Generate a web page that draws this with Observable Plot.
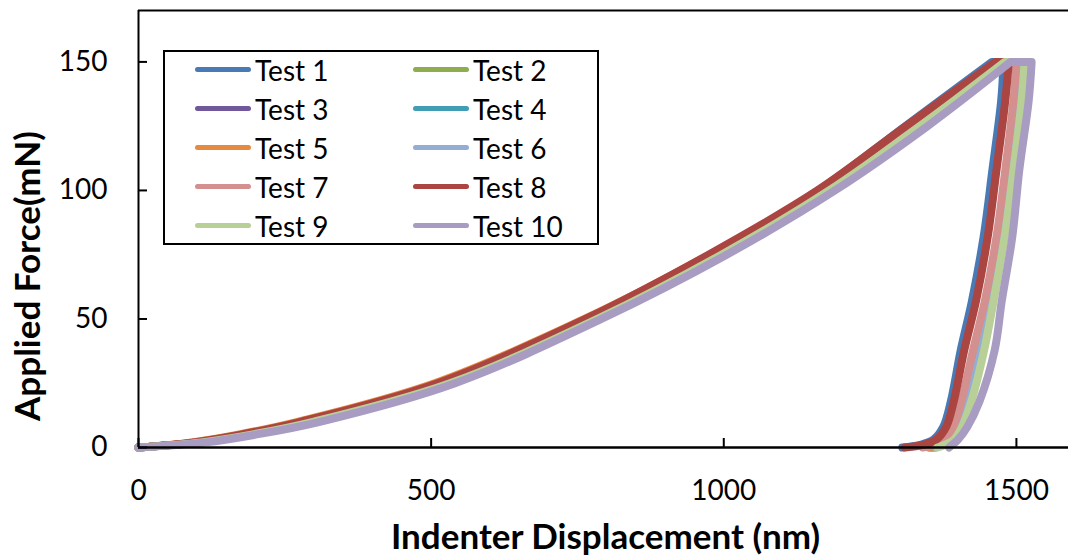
<!DOCTYPE html>
<html><head><meta charset="utf-8">
<script src="https://cdn.jsdelivr.net/npm/d3@7"></script>
<script src="https://cdn.jsdelivr.net/npm/@observablehq/plot@0.6"></script>
<style>
body{margin:0;background:#fff;}
#wrap{position:relative;width:1068px;height:558px;font-family:Lato, sans-serif;overflow:hidden;}
#legend{position:absolute;left:163px;top:50px;width:436px;height:195px;border:2px solid #000;box-sizing:border-box;background:#fff;
  display:grid;grid-template-columns:218px 218px;grid-auto-rows:39px;padding-left:30px;padding-top:0px;}
.item{display:flex;align-items:center;font-size:28px;color:#000;line-height:1;position:relative;top:-2px;}
.sw{width:56px;height:5px;border-radius:3px;margin-right:4px;flex:none;}
</style></head>
<body><div id="wrap"></div>
<script>
const tests = ["Test 1","Test 2","Test 3","Test 4","Test 5","Test 6","Test 7","Test 8","Test 9","Test 10"];
const colors = ["#4A7AB5","#8DAD4E","#71589A","#419DB6","#E68A40","#93AED5","#D4908E","#AA4541","#B8D098","#A99CC2"];

const xDomain = [0, 1589];
const yDomain = [0, 170];
const xTicks = [0, 500, 1000, 1500];
const yTicks = [0, 50, 100, 150];
const xTitle = "Indenter Displacement (nm)";
const yTitle = "Applied Force(mN)";

// loading: displacement (nm) at these force levels (mN)
const loadForce = [0, 2, 5, 10, 25, 50, 75, 100, 125, 150];
const load1  = [0, 100, 180, 282, 515, 768, 978, 1162, 1310, 1458];
const load2  = [0, 105, 188, 292, 525, 778, 990, 1175, 1328, 1474];
const load3  = [0, 103, 186, 290, 523, 776, 988, 1173, 1326, 1472];
const load4  = [0, 106, 190, 294, 527, 780, 992, 1178, 1332, 1477];
const load5  = [0,  92, 170, 272, 506, 762, 976, 1165, 1318, 1466];
const load6  = [0, 107, 191, 296, 529, 782, 994, 1180, 1335, 1479];
const load7  = [0, 100, 182, 284, 518, 770, 982, 1167, 1320, 1470];
const load8  = [0,  95, 175, 277, 511, 764, 974, 1160, 1311, 1464];
const load9  = [0, 108, 193, 298, 532, 784, 996, 1180, 1335, 1480];
const load10 = [0, 115, 200, 310, 541, 791, 1005, 1190, 1348, 1490];

// unloading: displacement (nm) at these force levels (mN)
const unloadForce = [150, 135, 108, 82, 57, 38, 18, 8, 3, 1, 0];
const unload1  = [1478, 1474, 1459, 1444, 1424, 1405, 1388, 1375, 1358, 1335, 1305];
const unload2  = [1503, 1498, 1484, 1469, 1449, 1429, 1408, 1394, 1380, 1366, 1350];
const unload3  = [1506, 1501, 1487, 1472, 1452, 1432, 1411, 1397, 1384, 1370, 1355];
const unload4  = [1509, 1504, 1490, 1475, 1455, 1436, 1414, 1400, 1388, 1374, 1360];
const unload5  = [1505, 1500, 1486, 1471, 1451, 1431, 1410, 1396, 1382, 1368, 1352];
const unload6  = [1512, 1507, 1492, 1477, 1458, 1440, 1418, 1403, 1390, 1376, 1362];
const unload7  = [1500, 1495, 1481, 1466, 1446, 1426, 1406, 1392, 1377, 1360, 1340];
const unload8  = [1487, 1481, 1466, 1451, 1431, 1411, 1393, 1380, 1363, 1340, 1310];
const unload9  = [1514, 1509, 1495, 1480, 1461, 1445, 1423, 1407, 1393, 1378, 1365];
const unload10 = [1526, 1521, 1505, 1493, 1475, 1463, 1437, 1416, 1400, 1390, 1385];

const loads = [load1, load2, load3, load4, load5, load6, load7, load8, load9, load10];
const unloads = [unload1, unload2, unload3, unload4, unload5, unload6, unload7, unload8, unload9, unload10];

const rows = [];
tests.forEach((t, i) => {
  const L = loads[i], U = unloads[i];
  loadForce.forEach((f, j) => rows.push({test: t, h: L[j], f}));
  // repeat corner points so the hold segment stays straight
  rows.push({test: t, h: L[L.length - 1], f: loadForce[loadForce.length - 1]});
  rows.push({test: t, h: U[0], f: unloadForce[0]});
  unloadForce.forEach((f, j) => rows.push({test: t, h: U[j], f}));
});

const chart = Plot.plot({
  width: 1068, height: 558,
  marginLeft: 138, marginRight: 0, marginTop: 10, marginBottom: 111,
  style: {fontFamily: "Lato, sans-serif", fontSize: "28px", color: "#000", background: "#fff", overflow: "visible"},
  x: {domain: xDomain},
  y: {domain: yDomain},
  color: {domain: tests, range: colors},
  marks: [
    Plot.line(rows, {x: "h", y: "f", z: "test", stroke: "test", strokeWidth: 8, curve: "catmull-rom", strokeLinejoin: "round", strokeLinecap: "round"}),
    Plot.ruleY([yDomain[1]], {stroke: "#000", strokeWidth: 2}),
    Plot.ruleX([xDomain[0]], {stroke: "#000", strokeWidth: 2}),
    Plot.ruleY([yDomain[0]], {stroke: "#000", strokeWidth: 2.5}),
    Plot.axisX({ticks: xTicks, tickFormat: d3.format("d"), tickSize: -9, tickPadding: 42, strokeWidth: 2, label: null, fontSize: 28}),
    Plot.axisY({ticks: yTicks, tickFormat: d3.format("d"), tickSize: -9, tickPadding: 40, strokeWidth: 2, label: null, fontSize: 28}),
    Plot.text([xTitle], {frameAnchor: "bottom", dy: 90, dx: 2, fontWeight: "bold", fontSize: 35, lineAnchor: "middle", textAnchor: "middle"}),
    Plot.text([yTitle], {frameAnchor: "left", rotate: -90, dx: -110, dy: 47, fontWeight: "bold", fontSize: 35, lineAnchor: "middle", textAnchor: "middle"})
  ]
});

const wrap = document.getElementById("wrap");
wrap.appendChild(chart);

const legend = document.createElement("div");
legend.id = "legend";
tests.forEach((t, i) => {
  const it = document.createElement("div");
  it.className = "item";
  const sw = document.createElement("span");
  sw.className = "sw";
  sw.style.background = colors[i];
  const tx = document.createElement("span");
  tx.textContent = t;
  it.appendChild(sw); it.appendChild(tx);
  legend.appendChild(it);
});
wrap.appendChild(legend);
</script>
</body></html>
